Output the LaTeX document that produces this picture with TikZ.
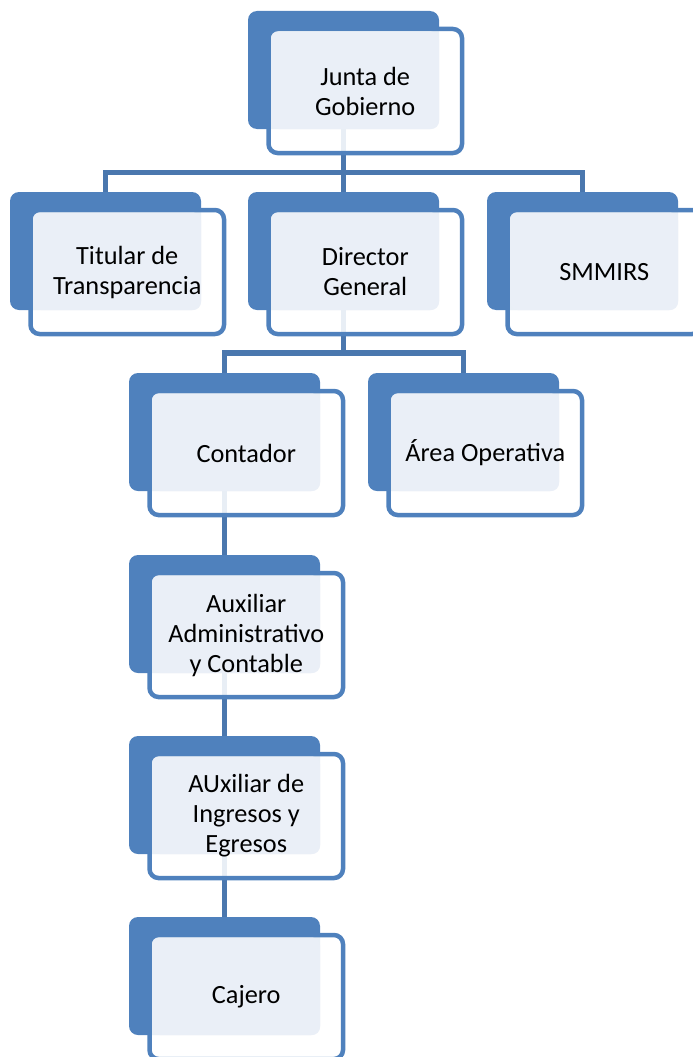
\documentclass[tikz,border=0pt]{standalone}
\usepackage{fontspec}
\setmainfont{Carlito}
\pgfdeclarelayer{bg}
\pgfsetlayers{bg,main}
\definecolor{accblue}{HTML}{4F81BD}
\definecolor{connblue}{HTML}{4A77AE}
\definecolor{lightc}{HTML}{EAEFF7}
\tikzset{
  bluebox/.style={anchor=north west, fill=accblue, rounded corners=9pt, minimum width=191pt, minimum height=118pt, inner sep=0pt, outer sep=0pt},
  whitebox/.style={anchor=north west, draw=accblue, line width=4.5pt, fill=white, fill opacity=0.88, rounded corners=9pt, minimum width=193.5pt, minimum height=124pt, inner sep=0pt, outer sep=0pt},
  boxtext/.style={align=center, font=\fontsize{26.3pt}{30pt}\selectfont, text=black, inner sep=0pt},
  conn/.style={draw=connblue, line width=5.5pt}
}
\newcommand\orgbox[4]{%
  \node[bluebox] (#1b) at (#2pt,-#3pt) {};
  \node[whitebox] (#1w) at ([shift={(20.5pt,-18pt)}]#1b.north west) {};
  \fill[lightc, rounded corners=8pt] ([shift={(2.5pt,-2.5pt)}]#1w.north west) rectangle (#1b.south east);
  \node[boxtext] (#1t) at (#1w.center) {#4};
}
\begin{document}
\begin{tikzpicture}
\useasboundingbox (0,0) rectangle (693pt,-1057pt);
\clip (0,0) rectangle (693pt,-1057pt);
\orgbox{jg}{248}{11}{Junta de\\Gobierno}
\orgbox{tt}{10}{192}{Titular de\\Transparencia}
\orgbox{dg}{248}{192}{Director\\General}
\orgbox{sm}{487}{192}{SMMIRS}
\orgbox{ct}{129}{373}{Contador}
\orgbox{ao}{368}{373}{Área Operativa}
\orgbox{aa}{129}{555}{Auxiliar\\Administrativo\\y Contable}
\orgbox{ai}{129}{736}{AUxiliar de\\Ingresos y\\Egresos}
\orgbox{cj}{129}{917}{Cajero}
\coordinate (b1) at (343.5pt,-172.5pt);
\coordinate (b2) at (343.5pt,-353pt);
\begin{pgfonlayer}{bg}
\draw[conn] (jgb.south) -- (dgb.north);
\draw[conn] (ttb.north) |- (b1) -| (smb.north);
\draw[conn] (dgb.south) -- (b2);
\draw[conn] (ctb.north) |- (b2) -| (aob.north);
\draw[conn] (ctb.south) -- (aab.north);
\draw[conn] (aab.south) -- (aib.north);
\draw[conn] (aib.south) -- (cjb.north);
\end{pgfonlayer}
\end{tikzpicture}
\end{document}
